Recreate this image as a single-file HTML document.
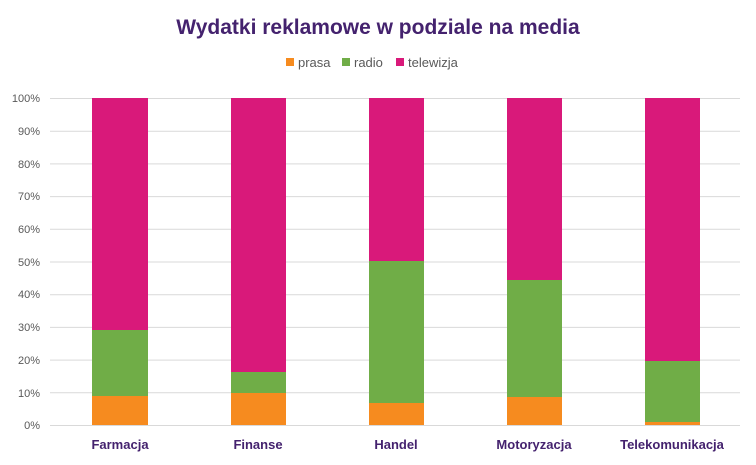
<!DOCTYPE html>
<html><head><meta charset="utf-8"><style>body{margin:0;background:#fff}svg{display:block}</style></head><body>
<svg width="756" height="465" xmlns="http://www.w3.org/2000/svg" font-family="Liberation Sans, sans-serif">
<text x="378" y="34" text-anchor="middle" font-size="21" font-weight="bold" fill="#44226e">Wydatki reklamowe w podziale na media</text>
<rect x="286" y="58" width="8" height="8" fill="#f68b1f"/><text x="298" y="67" font-size="13" fill="#595959">prasa</text>
<rect x="342" y="58" width="8" height="8" fill="#70ad47"/><text x="354" y="67" font-size="13" fill="#595959">radio</text>
<rect x="396" y="58" width="8" height="8" fill="#d9197a"/><text x="408" y="67" font-size="13" fill="#595959">telewizja</text>
<g stroke="#d9d9d9" stroke-width="1">
<line x1="50" x2="740" y1="98.5" y2="98.5"/><line x1="50" x2="740" y1="131.2" y2="131.2"/><line x1="50" x2="740" y1="163.9" y2="163.9"/><line x1="50" x2="740" y1="196.6" y2="196.6"/><line x1="50" x2="740" y1="229.3" y2="229.3"/><line x1="50" x2="740" y1="262" y2="262"/><line x1="50" x2="740" y1="294.7" y2="294.7"/><line x1="50" x2="740" y1="327.4" y2="327.4"/><line x1="50" x2="740" y1="360.1" y2="360.1"/><line x1="50" x2="740" y1="392.8" y2="392.8"/><line x1="50" x2="740" y1="425.5" y2="425.5"/>
</g>
<g font-size="11" fill="#595959" text-anchor="end">
<text x="40" y="102">100%</text><text x="40" y="135">90%</text><text x="40" y="168">80%</text><text x="40" y="200">70%</text><text x="40" y="233">60%</text><text x="40" y="266">50%</text><text x="40" y="298">40%</text><text x="40" y="331">30%</text><text x="40" y="364">20%</text><text x="40" y="397">10%</text><text x="40" y="429">0%</text>
</g>
<g>
<rect x="92" y="98" width="56" height="232" fill="#d9197a"/><rect x="92" y="330" width="56" height="66" fill="#70ad47"/><rect x="92" y="396" width="56" height="29" fill="#f68b1f"/>
<rect x="231" y="98" width="55" height="274" fill="#d9197a"/><rect x="231" y="372" width="55" height="21" fill="#70ad47"/><rect x="231" y="393" width="55" height="32" fill="#f68b1f"/>
<rect x="369" y="98" width="55" height="163" fill="#d9197a"/><rect x="369" y="261" width="55" height="142" fill="#70ad47"/><rect x="369" y="403" width="55" height="22" fill="#f68b1f"/>
<rect x="507" y="98" width="55" height="182" fill="#d9197a"/><rect x="507" y="280" width="55" height="117" fill="#70ad47"/><rect x="507" y="397" width="55" height="28" fill="#f68b1f"/>
<rect x="645" y="98" width="55" height="263" fill="#d9197a"/><rect x="645" y="361" width="55" height="61" fill="#70ad47"/><rect x="645" y="422" width="55" height="3" fill="#f68b1f"/>
</g>
<g font-size="13" font-weight="bold" fill="#44226e" text-anchor="middle">
<text x="120" y="449">Farmacja</text><text x="258" y="449">Finanse</text><text x="396" y="449">Handel</text><text x="534" y="449">Motoryzacja</text><text x="672" y="449">Telekomunikacja</text>
</g>
</svg>
</body></html>
